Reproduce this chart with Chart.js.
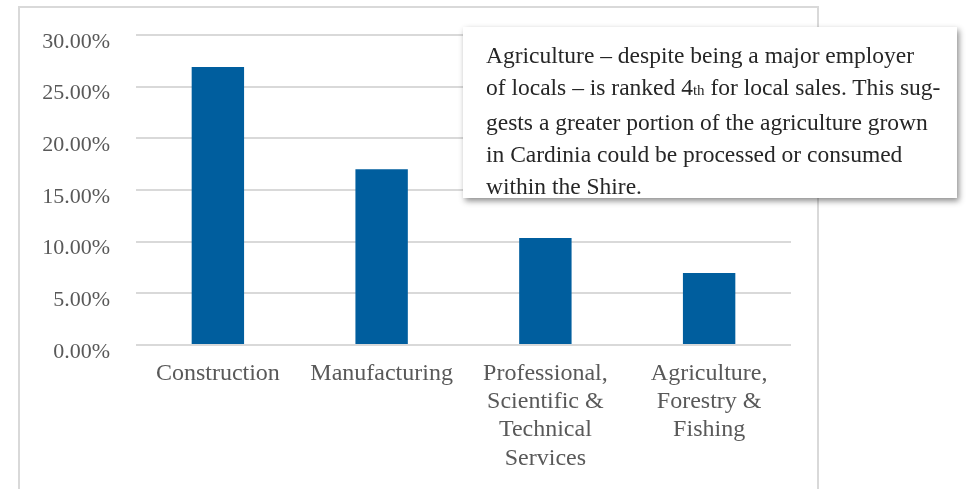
<!DOCTYPE html>
<html>
<head>
<meta charset="utf-8">
<script src="https://cdn.jsdelivr.net/npm/chart.js@4"></script>
<style>
  html, body { margin: 0; padding: 0; background: #fff; }
  body { width: 970px; height: 489px; position: relative; overflow: hidden; }
  #frame {
    position: absolute; left: 18px; top: 6px; width: 801px; height: 520px;
    border: 2px solid #d9d9d9; box-sizing: border-box;
  }
  #wrap { position: absolute; left: 0; top: 0; width: 970px; height: 489px; }
  #note {
    position: absolute; left: 463px; top: 27px; width: 494px; height: 171px;
    box-sizing: border-box; padding: 12px 6px 0 23px;
    background: #fff; box-shadow: 2px 3px 6px rgba(0,0,0,0.45);
    font-family: "Liberation Serif", serif; font-size: 23.5px; line-height: 32px;
    color: #262626; white-space: nowrap;
  }
  #note .th { font-size: 15px; }
</style>
</head>
<body>
<div id="frame"></div>
<div id="wrap"><canvas id="chart" width="970" height="489"></canvas></div>
<div id="note">Agriculture – despite being a major employer<br>of locals – is ranked 4<span class="th">th</span> for local sales. This sug-<br>gests a greater portion of the agriculture grown<br>in Cardinia could be processed or consumed<br>within the Shire.</div>
<script>
  // Sektor industri dan porsi penjualan lokal
  const categories = [
    ["Construction"],
    ["Manufacturing"],
    ["Professional,", "Scientific &", "Technical", "Services"],
    ["Agriculture,", "Forestry &", "Fishing"]
  ];
  const shares = [0.269, 0.170, 0.1035, 0.0697];
  const yTicks = [0, 0.05, 0.10, 0.15, 0.20, 0.25, 0.30];

  const ctx = document.getElementById("chart").getContext("2d");
  new Chart(ctx, {
    type: "bar",
    data: {
      labels: categories,
      datasets: [{
        data: shares,
        backgroundColor: "#005e9e",
        borderWidth: 0,
        categoryPercentage: 1,
        barPercentage: 0.32
      }]
    },
    options: {
      responsive: false,
      animation: false,
      layout: { padding: { left: 0, right: 179, top: 35, bottom: 0 } },
      plugins: { legend: { display: false }, tooltip: { enabled: false } },
      scales: {
        x: {
          grid: { display: false },
          border: { display: false },
          ticks: {
            color: "#595959",
            font: { family: "Liberation Serif", size: 24, lineHeight: 1.17 },
            padding: 7,
            maxRotation: 0,
            autoSkip: false
          },
          afterFit: scale => { scale.height = 144; }
        },
        y: {
          min: 0,
          max: 0.30,
          afterBuildTicks: scale => { scale.ticks = yTicks.map(v => ({ value: v })); },
          grid: { color: "#d9d9d9", lineWidth: 2, drawTicks: false },
          border: { display: false },
          ticks: {
            color: "#595959",
            font: { family: "Liberation Serif", size: 22 },
            padding: 26,
            labelOffset: 7,
            callback: v => (v * 100).toFixed(2) + "%"
          },
          afterFit: scale => {
            scale.width = 136;
            scale.paddingTop = 0;
            scale.paddingBottom = 0;
          }
        }
      }
    }
  });
</script>
</body>
</html>
